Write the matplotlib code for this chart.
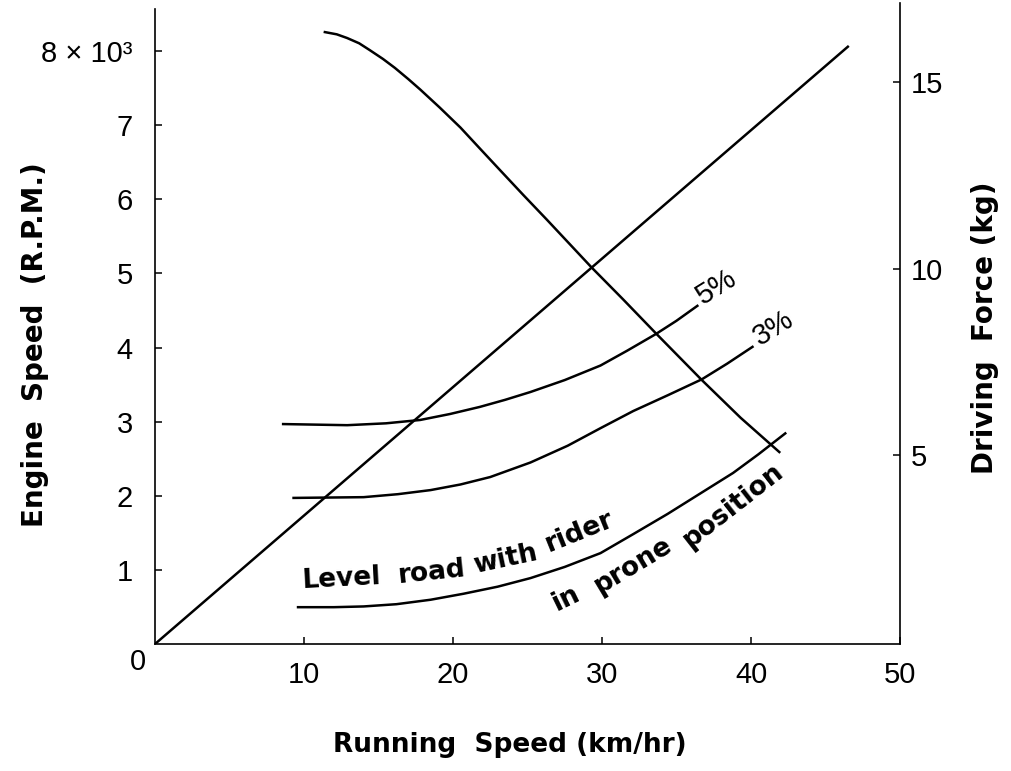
import matplotlib
matplotlib.use('Agg')
import matplotlib.pyplot as plt

plt.rcParams['font.family'] = ['Liberation Sans', 'DejaVu Sans']

# -----------------------------------------------------------------------------
# data

# engine speed (x 1000 rpm) vs running speed, left axis
engine_speed_x = [0, 46.5]
engine_speed_y = [0, 8.06]

# driving force (kg), right axis
force_x = [11.4, 12.2, 12.9, 13.7, 14.4, 15.3, 16.1, 17.0, 17.8, 19.1, 20.5,
           21.8, 23.2, 24.7, 26.3, 27.8, 29.3, 31.4, 33.6, 36.7, 39.3, 41.9]
force_y = [16.34, 16.28, 16.18, 16.04, 15.86, 15.62, 15.38, 15.08, 14.80,
           14.32, 13.78, 13.22, 12.62, 11.98, 11.31, 10.67, 10.03, 9.18,
           8.27, 7.01, 6.00, 5.08]

# running resistance (kg), right axis
grade5_x = [8.6, 12.9, 15.5, 17.8, 19.8, 21.8, 23.5, 25.2, 27.5, 29.9, 31.7,
            33.6, 35.0, 36.4]
grade5_y = [5.83, 5.80, 5.85, 5.94, 6.10, 6.29, 6.48, 6.69, 7.01, 7.40, 7.80,
            8.24, 8.60, 9.00]

grade3_x = [9.3, 14.0, 16.3, 18.5, 20.5, 22.5, 25.2, 27.7, 29.9, 32.1, 34.4,
            36.7, 38.4, 40.1]
grade3_y = [3.85, 3.87, 3.95, 4.06, 4.21, 4.41, 4.80, 5.25, 5.72, 6.18, 6.60,
            7.03, 7.45, 7.90]

level_x = [9.6, 12.0, 14.0, 16.2, 18.5, 20.7, 23.0, 25.2, 27.5, 29.9, 32.1,
           34.4, 36.6, 38.8, 40.5, 42.3]
level_y = [0.92, 0.92, 0.94, 1.00, 1.12, 1.28, 1.47, 1.70, 2.00, 2.37, 2.88,
           3.42, 3.97, 4.52, 5.02, 5.58]

x_ticks = [10, 20, 30, 40, 50]
left_ticks = [1, 2, 3, 4, 5, 6, 7, 8]
left_labels = ['1', '2', '3', '4', '5', '6', '7', '8 \u00d7 10\u00b3']
right_ticks = [5, 10, 15]

# -----------------------------------------------------------------------------

fig = plt.figure(figsize=(10.11, 7.71), dpi=100)
ax = fig.add_axes([155 / 1011, 127 / 771, 745 / 1011, 641 / 771])
ax2 = ax.twinx()

ax.set_xlim(0, 50)
ax.set_ylim(0, 8.65)
ax2.set_ylim(-0.067, 17.12)

lw = 1.8
ax.plot(engine_speed_x, engine_speed_y, color='black', lw=lw)
ax2.plot(force_x, force_y, color='black', lw=lw)
ax2.plot(grade5_x, grade5_y, color='black', lw=lw)
ax2.plot(grade3_x, grade3_y, color='black', lw=lw)
ax2.plot(level_x, level_y, color='black', lw=lw)

for a in (ax, ax2):
    a.spines['top'].set_visible(False)
    for s in a.spines.values():
        s.set_linewidth(1.2)
ax.spines['right'].set_visible(False)
ax2.spines['left'].set_visible(False)
ax2.spines['bottom'].set_visible(False)
ax.spines['left'].set_bounds(0, 8.57)

ax.set_xticks(x_ticks)
ax.set_xticklabels([str(t) for t in x_ticks])
ax.set_yticks(left_ticks)
ax.set_yticklabels(left_labels)
ax2.set_yticks(right_ticks)
ax2.set_yticklabels([str(t) for t in right_ticks])

ax.tick_params(axis='x', direction='in', length=5, width=1.1,
               labelsize=21, pad=12)
ax.tick_params(axis='y', direction='in', length=5, width=1.1,
               labelsize=21, pad=16)
ax2.tick_params(axis='y', direction='in', length=5, width=1.1,
                labelsize=21, pad=8)

ax.text(-0.6, -0.05, '0', fontsize=21, ha='right', va='top')

# axis titles
bold = dict(fontweight='bold', family='DejaVu Sans', ha='center', va='center')
fig.text(510 / 1011, 1 - 745 / 771, 'Running  Speed (km/hr)', fontsize=19,
         **bold)
fig.text(35 / 1011, 1 - 345 / 771, 'Engine  Speed  (R.P.M.)', fontsize=20,
         rotation=90, **bold)
fig.text(985 / 1011, 1 - 328 / 771, 'Driving  Force (kg)', fontsize=20,
         rotation=90, **bold)

# curve labels
ax2.text(37.7, 9.5, '5%', fontsize=21, rotation=32, ha='center', va='center')
ax2.text(41.5, 8.4, '3%', fontsize=21, rotation=32, ha='center', va='center')

words = [('Level', 12.5, 1.68, 3), ('road', 18.6, 1.86, 6),
         ('with', 23.5, 2.2, 12), ('rider', 28.5, 2.94, 22),
         ('in', 27.6, 1.16, 26), ('prone', 32.1, 2.04, 31),
         ('position', 38.8, 3.63, 38)]
for w, wx, wy, rot in words:
    ax2.text(wx, wy, w, fontsize=19, fontweight='bold', family='DejaVu Sans',
             rotation=rot, ha='center', va='center', rotation_mode='anchor')

fig.savefig('out.png', dpi=100)
